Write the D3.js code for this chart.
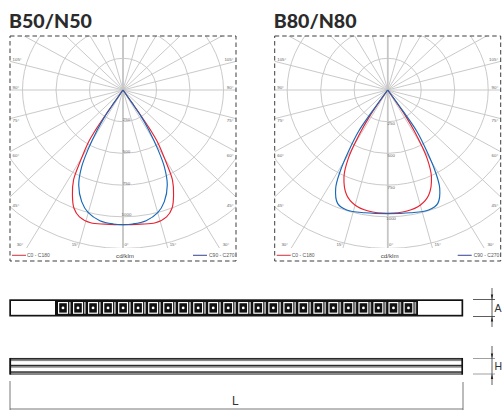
<!DOCTYPE html>
<html><head><meta charset="utf-8">
<script src="https://cdn.jsdelivr.net/npm/d3@7/dist/d3.min.js"></script>
<style>html,body{margin:0;padding:0;background:#fff;overflow:hidden}svg{display:block}text{font-family:"Liberation Sans",Arial,sans-serif}</style>
</head><body><svg id="c" width="503" height="410"></svg>
<script>
// ---- data ----
const titles = ["B50/N50", "B80/N80"];
const ringValues = [250, 500, 750, 1000, 1250];
const radialTickValues = [250, 500, 750, 1000];
const rayAngles = [0,15,30,45,60,75,90,105,120,135,150,165,180];
const legendLabels = ["C0 - C180", "C90 - C270"];
const unitLabel = "cd/klm";
const a_red = [0,7,13,18,21.5,24.5,27.5,29.5,32,33,33.5,34];
const v_red = [1062,1066,1075,1052,1000,910,799,650,492,375,200,0];
const a_blue = [0,4,9.5,15,19.3,23.8,27,29,31.4,33,33.5,34];
const v_blue = [1062,1059,1045,1002,933,819,679,540,369,250,120,0];
const b_red_a = [0,8.6,15.1,20.3,25.5,28.6,31.3,33,34,34.5];
const b_red_v = [972,965,939,883,758,614,399,250,100,0];
const b_blue_a = [0,9.9,17.9,22.7,26.6,28.9,31.1,33.7,34.5,35];
const b_blue_v = [975,983,994,969,867,736,569,395,200,0];
const moduleIndex = d3.range(24);
const stripeRows = [0,1,2];
const dims = ["A","H","L"];

const svg = d3.select("#c");
const RED = "#e8202f", BLUE = "#1668b8", GRID = "#c6c6c6";

function polar(g, cfg){
  const x0 = cfg.cx, y0 = 90;
  const rx = d3.scaleLinear().domain([0,250]).range([0,33.5]);
  const ry = d3.scaleLinear().domain([0,250]).range([0,31.7]);
  const px = (a,v)=> x0 + rx(v)*Math.sin(a*Math.PI/180);
  const py = (a,v)=> y0 + ry(v)*Math.cos(a*Math.PI/180);
  const left = cfg.left, right = cfg.left+226, boxTop = 36, bottom = 248;
  const id = "clip"+Math.round(cfg.cx);
  svg.append("clipPath").attr("id",id).append("rect").attr("x",left).attr("y",boxTop).attr("width",right-left).attr("height",bottom-boxTop);
  const grid = g.append("g").attr("clip-path",`url(#${id})`);
  grid.selectAll("ellipse").data(ringValues).join("ellipse")
    .attr("cx",x0).attr("cy",y0).attr("rx",d=>rx(d)).attr("ry",d=>ry(d))
    .attr("fill","none").attr("stroke",GRID).attr("stroke-width",0.95);
  rayAngles.forEach(a=>{
    [1,-1].forEach(s=>{
      grid.append("line").attr("x1",x0).attr("y1",y0)
        .attr("x2",px(s*a,3000)).attr("y2",py(a,3000))
        .attr("stroke",GRID).attr("stroke-width",(a===0||a===180)?1.5:0.95);
    });
  });
  g.selectAll("text.rv").data(radialTickValues).join("text").attr("class","rv")
    .attr("x",x0+3.5).attr("y",d=>py(0,d)+cfg.tickDy+1.4).attr("text-anchor","middle")
    .attr("font-size",4.4).attr("fill","#666").text(d=>d);
  const lab = [[105,60.5],[90,89],[75,121.5],[60,157],[45,207]];
  lab.forEach(([a,y])=>{
    g.append("text").attr("x",left+2.5).attr("y",y).attr("font-size",4.4).attr("fill","#666").text(a+"°");
    g.append("text").attr("x",right-2.5).attr("y",y).attr("text-anchor","end").attr("font-size",4.4).attr("fill","#666").text(a+"°");
  });
  const bl = [[30,-103],[15,-48],[15,50],[30,103]];
  bl.forEach(([a,d])=>{
    g.append("text").attr("x",x0+d).attr("y",246.2).attr("text-anchor","middle").attr("font-size",4.4).attr("fill","#666").text(a+"°");
  });
  g.append("text").attr("x",x0+3.5).attr("y",246.2).attr("text-anchor","middle").attr("font-size",4.4).attr("fill","#666").text("0°");
  const draw=(A,V,col)=>{
    const pts = A.map((a,i)=>[a,V[i]]);
    const all = pts.slice().reverse().map(([a,v])=>[-a,v]).concat(pts.slice(1));
    const line = d3.line().x(d=>px(d[0],d[1])).y(d=>py(d[0],d[1])).curve(d3.curveCatmullRom.alpha(0.5));
    g.append("path").attr("d",line(all)).attr("fill","none").attr("stroke",col).attr("stroke-width",1.15).attr("stroke-linejoin","round");
  };
  cfg.series.forEach(s=>draw(s.a,s.v,s.c));
  g.append("line").attr("x1",left+2).attr("x2",left+16).attr("y1",255.3).attr("y2",255.3).attr("stroke","#d0404c").attr("stroke-width",1.1);
  g.append("text").attr("x",left+17).attr("y",257.4).attr("font-size",5).attr("fill","#555").text(legendLabels[0]);
  g.append("line").attr("x1",right-43).attr("x2",right-29).attr("y1",255.3).attr("y2",255.3).attr("stroke","#45519b").attr("stroke-width",1.1);
  g.append("text").attr("x",right-27).attr("y",257.4).attr("font-size",5).attr("fill","#555").text(legendLabels[1]);
  g.append("text").attr("x",x0+2).attr("y",257.8).attr("text-anchor","middle").attr("font-size",6.2).attr("fill","#444").text(unitLabel);
  g.append("rect").attr("x",left).attr("y",boxTop).attr("width",right-left).attr("height",261-boxTop)
    .attr("fill","none").attr("stroke","#333").attr("stroke-width",0.95).attr("stroke-dasharray","4.5,3");
  g.append("text").attr("x",cfg.left-1).attr("y",28).attr("font-size",19.6).attr("font-weight",900)
    .attr("style",'font-family:Lato').attr("fill","#2b2b2b").text(cfg.title);
}
polar(svg.append("g"),{cx:123,left:10,tickDy:-2,title:titles[0],series:[{a:a_red,v:v_red,c:RED},{a:a_blue,v:v_blue,c:BLUE}]});
polar(svg.append("g"),{cx:387.7,left:274.7,tickDy:2,title:titles[1],series:[{a:b_red_a,v:b_red_v,c:RED},{a:b_blue_a,v:b_blue_v,c:BLUE}]});

// ---- luminaire drawings ----
const mx = d3.scaleBand().domain(moduleIndex).range([56.5,417]);
const topView = svg.append("g");
topView.append("rect").attr("x",10).attr("y",300).attr("width",452.5).attr("height",15.8).attr("fill","#111").attr("stroke","#111").attr("stroke-width",1.4);
topView.append("rect").attr("x",11).attr("y",301).attr("width",44).attr("height",13.8).attr("fill","#fff");
topView.append("rect").attr("x",418).attr("y",301).attr("width",43.5).attr("height",13.8).attr("fill","#fff");
const mg = topView.selectAll("g").data(moduleIndex).join("g").attr("transform",d=>`translate(${mx(d)},301)`);
mg.append("rect").attr("x",1.5).attr("y",1).attr("width",10).attr("height",11.8).attr("fill","#fff");
mg.append("rect").attr("x",2.7).attr("y",2.2).attr("width",7.6).attr("height",9.4).attr("fill","#111");
mg.append("circle").attr("cx",6.5).attr("cy",6.9).attr("r",1.4).attr("fill","#fff");
mg.append("rect").attr("x",12.4).attr("y",1).attr("width",1.8).attr("height",11.8).attr("fill","#aaa");

const side = svg.append("g");
side.append("rect").attr("x",10).attr("y",358.5).attr("width",452.5).attr("height",15.5).attr("fill","#fff").attr("stroke","#222").attr("stroke-width",1.1);
side.selectAll("rect.s").data(stripeRows).join("rect").attr("class","s")
  .attr("x",11).attr("width",451).attr("y",d=>358.5+d*6.6).attr("height",2.6).attr("fill","#888");
side.selectAll("rect.t").data(stripeRows).join("rect").attr("class","t")
  .attr("x",11).attr("width",451).attr("y",d=>358.2+d*6.6).attr("height",1.1).attr("fill","#222");
side.append("rect").attr("x",9.5).attr("y",358).attr("width",1.6).attr("height",16.5).attr("fill","#111");
side.append("rect").attr("x",461.4).attr("y",358).attr("width",1.6).attr("height",16.5).attr("fill","#111");

const dim = svg.append("g").attr("stroke","#555").attr("stroke-width",0.8).attr("fill","none");
[[10,381,410],[463,382,410]].forEach(d=>dim.append("line").attr("x1",d[0]).attr("x2",d[0]).attr("y1",d[1]).attr("y2",d[2]));
dim.append("line").attr("x1",10).attr("x2",463).attr("y1",409).attr("y2",409);
[[473,495,299.5],[473,495,316.5],[473,495,358.5],[473,495,374]].forEach(d=>dim.append("line").attr("x1",d[0]).attr("x2",d[1]).attr("y1",d[2]).attr("y2",d[2]).attr("stroke",d[2]>350?"#888":"#333"));
[[288,327],[346,385]].forEach(d=>dim.append("line").attr("x1",492).attr("x2",492).attr("y1",d[0]).attr("y2",d[1]).attr("stroke","#333"));
const arrows=[[492,299.5,-1],[492,316.5,1],[492,358.5,-1],[492,374,1]];
arrows.forEach(([x,y,s])=>svg.append("path").attr("d",d3.line()([[x,y],[x-1.2,y+s*5],[x+1.2,y+s*5]])+"Z").attr("fill","#222"));
const dt = svg.append("g").attr("font-size",10.5).attr("fill","#333");
dt.append("text").attr("x",494.5).attr("y",311.5).text(dims[0]);
dt.append("text").attr("x",494.5).attr("y",370).text(dims[1]);
dt.append("text").attr("x",232).attr("y",404.5).attr("font-size",12).text(dims[2]);
</script></body></html>
